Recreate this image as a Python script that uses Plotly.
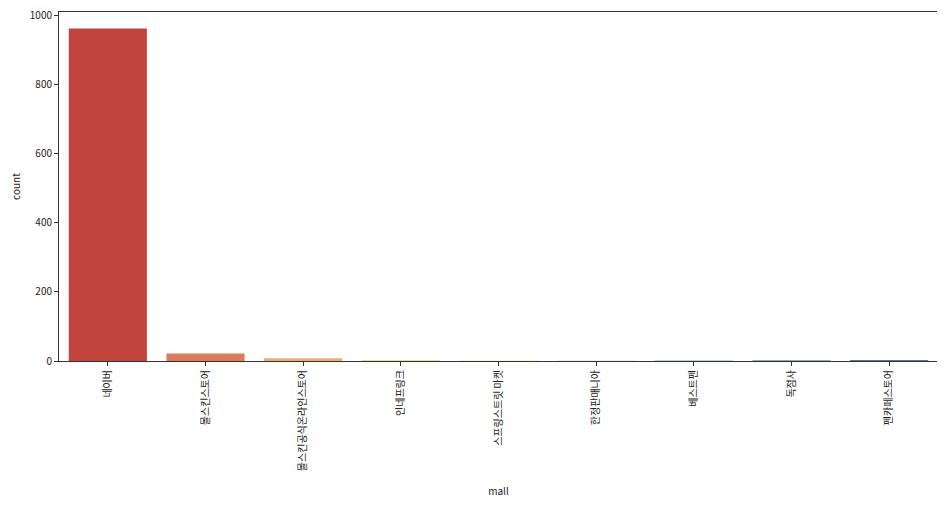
import colorsys
import plotly.graph_objects as go

malls = ["네이버", "몰스킨스토어", "몰스킨공식온라인스토어", "인네프링크", "스프링스트릿 마켓",
         "한정판매니아", "베스트펜", "독점사", "펜카페스토어"]
counts = [963, 22, 8, 1, 1, 1, 1, 1, 1]

base_palette = ["#d73027", "#f46d43", "#fdae61", "#fee090", "#ffffbf",
                "#e0f3f8", "#abd9e9", "#74add1", "#4575b4"]


def desat(hexc, prop=0.75):
    r, g, b = (int(hexc[i:i + 2], 16) / 255 for i in (1, 3, 5))
    h, l, s = colorsys.rgb_to_hls(r, g, b)
    r, g, b = colorsys.hls_to_rgb(h, l, s * prop)
    return "#%02x%02x%02x" % (round(r * 255), round(g * 255), round(b * 255))


colors = [desat(c) for c in base_palette]

font = "Noto Sans CJK KR, Malgun Gothic, sans-serif"

fig = go.Figure(go.Bar(x=malls, y=counts, marker_color=colors, marker_line_width=0,
                       width=0.8, showlegend=False))

fig.update_layout(
    width=945, height=507,
    margin=dict(l=51, r=15, t=4, b=154, autoexpand=False),
    plot_bgcolor="white", paper_bgcolor="white",
    font=dict(family=font, size=10, color="#222"),
    bargap=0.2,
)
fig.update_xaxes(
    title=dict(text="mall", font=dict(size=10), standoff=17),
    tickangle=-90, ticks="outside", ticklen=4, tickcolor="#333",
    showline=True, linecolor="#333", linewidth=1, mirror=True,
    range=[-0.5, 8.5], showgrid=False, tickfont=dict(size=10),
    automargin=True,
)
fig.update_yaxes(
    title=dict(text="count", font=dict(size=10), standoff=8),
    range=[0, 1011], tickvals=[0, 200, 400, 600, 800, 1000],
    ticks="outside", ticklen=4, tickcolor="#333",
    showline=True, linecolor="#333", linewidth=1, mirror=True,
    showgrid=False, zeroline=False, tickfont=dict(size=10),
    automargin=True, ticklabeloverflow="allow",
)

fig.write_html("out.html")
